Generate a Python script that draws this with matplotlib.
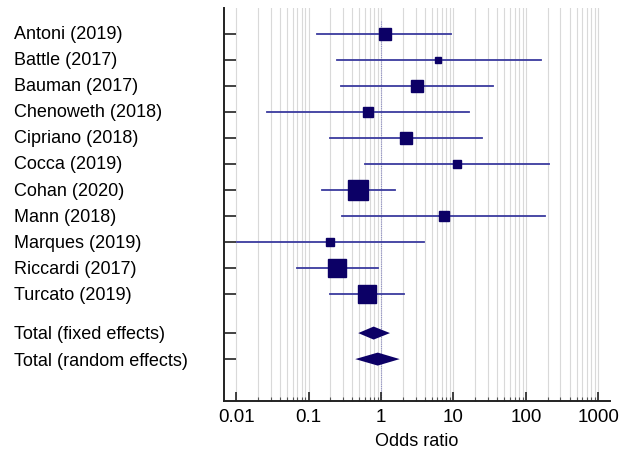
import matplotlib
matplotlib.use('Agg')
import matplotlib.pyplot as plt
from matplotlib.ticker import FixedLocator, NullFormatter
import numpy as np

plt.rcParams['font.family'] = ['Liberation Sans', 'DejaVu Sans']

studies = ['Antoni (2019)', 'Battle (2017)', 'Bauman (2017)', 'Chenoweth (2018)',
           'Cipriano (2018)', 'Cocca (2019)', 'Cohan (2020)', 'Mann (2018)',
           'Marques (2019)', 'Riccardi (2017)', 'Turcato (2019)']
odds = [1.12, 6.2, 3.16, 0.66, 2.19, 11.1, 0.48, 7.3, 0.20, 0.25, 0.64]
ci_low = [0.13, 0.246, 0.28, 0.0266, 0.197, 0.60, 0.153, 0.29, 0.0103, 0.0696, 0.195]
ci_high = [9.2, 160, 35.5, 16.2, 24.5, 208, 1.54, 182, 3.9, 0.914, 2.07]
weights = [6.7, 2.7, 7.1, 4.5, 6.7, 3.5, 22.1, 4.5, 3.5, 17.9, 19.9]  # percent

totals = ['Total (fixed effects)', 'Total (random effects)']
tot_odds = [0.79, 0.90]
tot_low = [0.484, 0.44]
tot_high = [1.33, 1.81]

box_col = '#0c0066'
line_col = '#3a3a9e'

fig = plt.figure(figsize=(6.36, 4.59), dpi=100)
ax = fig.add_axes([0.352, 0.127, 0.607, 0.8557])
ax.set_xscale('log')

# grid, decades 0.01 .. 1000
minors = []
for d in range(-2, 3):
    for m in range(1, 10):
        v = m * 10.0 ** d
        ax.axvline(v, color='#d9d9d9', lw=0.8, zorder=0)
        if m > 1:
            minors.append(v)
ax.axvline(1000, color='#d9d9d9', lw=0.8, zorder=0)
ax.plot([1, 1], [-0.5, 14.1], color='#8f8fc8', lw=0.8, ls=(0, (1, 1)), zorder=1)

ys = np.arange(len(studies))
for y, o, lo, hi, w in zip(ys, odds, ci_low, ci_high, weights):
    ax.plot([lo, hi], [y, y], color=line_col, lw=1.3, zorder=2)
    ax.plot(o, y, 's', color=box_col, ms=3.06 * np.sqrt(w), mec=box_col, zorder=3)

tot_y = [len(studies) + 0.5, len(studies) + 1.5]
for y, o, lo, hi in zip(tot_y, tot_odds, tot_low, tot_high):
    ax.fill([lo, o, hi, o], [y, y - 0.25, y, y + 0.25], color=box_col, zorder=3, lw=0)

ax.set_xlim(10 ** -2.17, 10 ** 3.16)
ax.set_ylim(14.1, -1)

ax.set_yticks(list(ys) + tot_y)
ax.set_yticklabels([])
for y, name in zip(list(ys) + tot_y, studies + totals):
    fig.text(14 / 636, 1 - (8 + (y + 1) * 26.15) / 459, name, fontsize=13,
             ha='left', va='center')

ax.xaxis.set_major_locator(FixedLocator([0.01, 0.1, 1, 10, 100, 1000]))
ax.set_xticklabels(['0.01', '0.1', '1', '10', '100', '1000'], fontsize=13.5)
ax.xaxis.set_minor_locator(FixedLocator(minors))
ax.xaxis.set_minor_formatter(NullFormatter())
ax.tick_params(axis='x', which='major', direction='in', length=6.5, width=1.2, color='#222222', pad=6)
ax.tick_params(axis='x', which='minor', direction='in', length=3, width=0.8, color='#555555')
ax.tick_params(axis='y', which='major', direction='in', length=8.6, width=1.2, color='#222222')
ax.set_xlabel('Odds ratio', fontsize=13, labelpad=5)

for s in ['top', 'right']:
    ax.spines[s].set_visible(False)
for s in ['left', 'bottom']:
    ax.spines[s].set_linewidth(1.4)
    ax.spines[s].set_color('#222222')

fig.savefig('out.png', dpi=100)
